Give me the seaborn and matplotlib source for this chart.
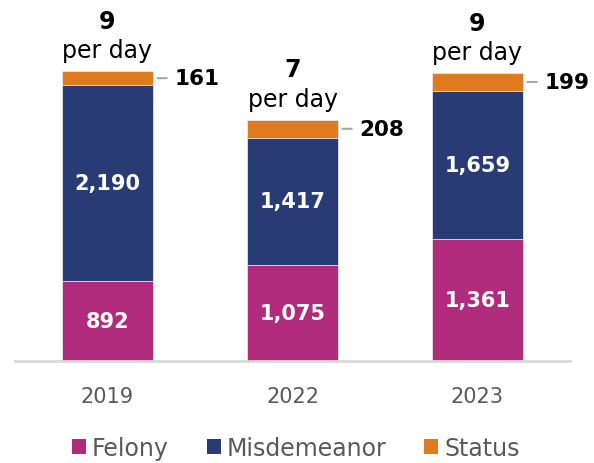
import pandas as pd
import seaborn as sns
import matplotlib.pyplot as plt
from matplotlib.patches import Patch

# values
years = ["2019", "2022", "2023"]
felony = [892, 1075, 1361]
misdemeanor = [2190, 1417, 1659]
status = [161, 208, 199]
per_day = [9, 7, 9]

colors = {"Felony": "#B02B7C", "Misdemeanor": "#283B74", "Status": "#E07A1F"}

df = pd.DataFrame({"year": years, "Felony": felony,
                   "Misdemeanor": misdemeanor, "Status": status})
df["fm"] = df["Felony"] + df["Misdemeanor"]
df["total"] = df["fm"] + df["Status"]

sns.set_style("white")
plt.rcParams["font.family"] = ["DejaVu Sans"]

fig = plt.figure(figsize=(5.94, 4.64), dpi=100)
ax = fig.add_axes([15 / 594, (464 - 362) / 464, 555 / 594, 322 / 464])

# stacked bars: draw the totals first, then cover them with the lower parts
bar_kw = dict(width=0.49, edgecolor="#e8e8e8", linewidth=0.6, ax=ax)
sns.barplot(data=df, x="year", y="total", color=colors["Status"], saturation=1, **bar_kw)
sns.barplot(data=df, x="year", y="fm", color=colors["Misdemeanor"], saturation=1, **bar_kw)
sns.barplot(data=df, x="year", y="Felony", color=colors["Felony"], saturation=1, **bar_kw)

ax.set_xlim(-0.5, 2.5)
ax.set_ylim(0, 3600)
ax.set_xlabel("")
ax.set_ylabel("")
ax.set_yticks([])
sns.despine(ax=ax, left=True)
ax.spines["bottom"].set_color("#d9d9d9")
ax.spines["bottom"].set_linewidth(2)
ax.tick_params(axis="x", length=0, pad=18, labelsize=15, labelcolor="#595959")

for i in range(len(years)):
    f, m, s = df.loc[i, "Felony"], df.loc[i, "Misdemeanor"], df.loc[i, "Status"]
    tot = df.loc[i, "total"]
    ax.text(i, f / 2, f"{f:,}", ha="center", va="center", color="white",
            fontsize=15, fontweight="bold")
    ax.text(i, f + m / 2, f"{m:,}", ha="center", va="center", color="white",
            fontsize=15, fontweight="bold")
    # status label with leader line
    ys = f + m + s / 2
    ax.annotate("", xy=(i + 0.255, ys), xytext=(i + 0.335, ys),
                arrowprops=dict(arrowstyle="-", color="#a6a6a6", lw=1.5),
                annotation_clip=False)
    ax.text(i + 0.36, ys, f"{s:,}", ha="left", va="center", color="black",
            fontsize=15.5, fontweight="bold")
    # per day labels above bar
    ax.annotate("per day", xy=(i, tot), xytext=(0, 10), textcoords="offset points",
                ha="center", va="baseline", fontsize=17, color="black",
                annotation_clip=False)
    ax.annotate(f"{per_day[i]}", xy=(i, tot), xytext=(0, 31), textcoords="offset points",
                ha="center", va="baseline", fontsize=17, fontweight="bold",
                color="black", annotation_clip=False)

handles = [Patch(facecolor=colors[k], edgecolor="none") for k in ["Felony", "Misdemeanor", "Status"]]
fig.legend(handles, ["Felony", "Misdemeanor", "Status"], loc="center", ncol=3,
           bbox_to_anchor=(0.498, 15 / 464), frameon=False, fontsize=17,
           labelcolor="#595959", handlelength=0.6, handleheight=0.6,
           handletextpad=0.25, columnspacing=1.6, borderpad=0)

fig.savefig("out.png", dpi=100)
